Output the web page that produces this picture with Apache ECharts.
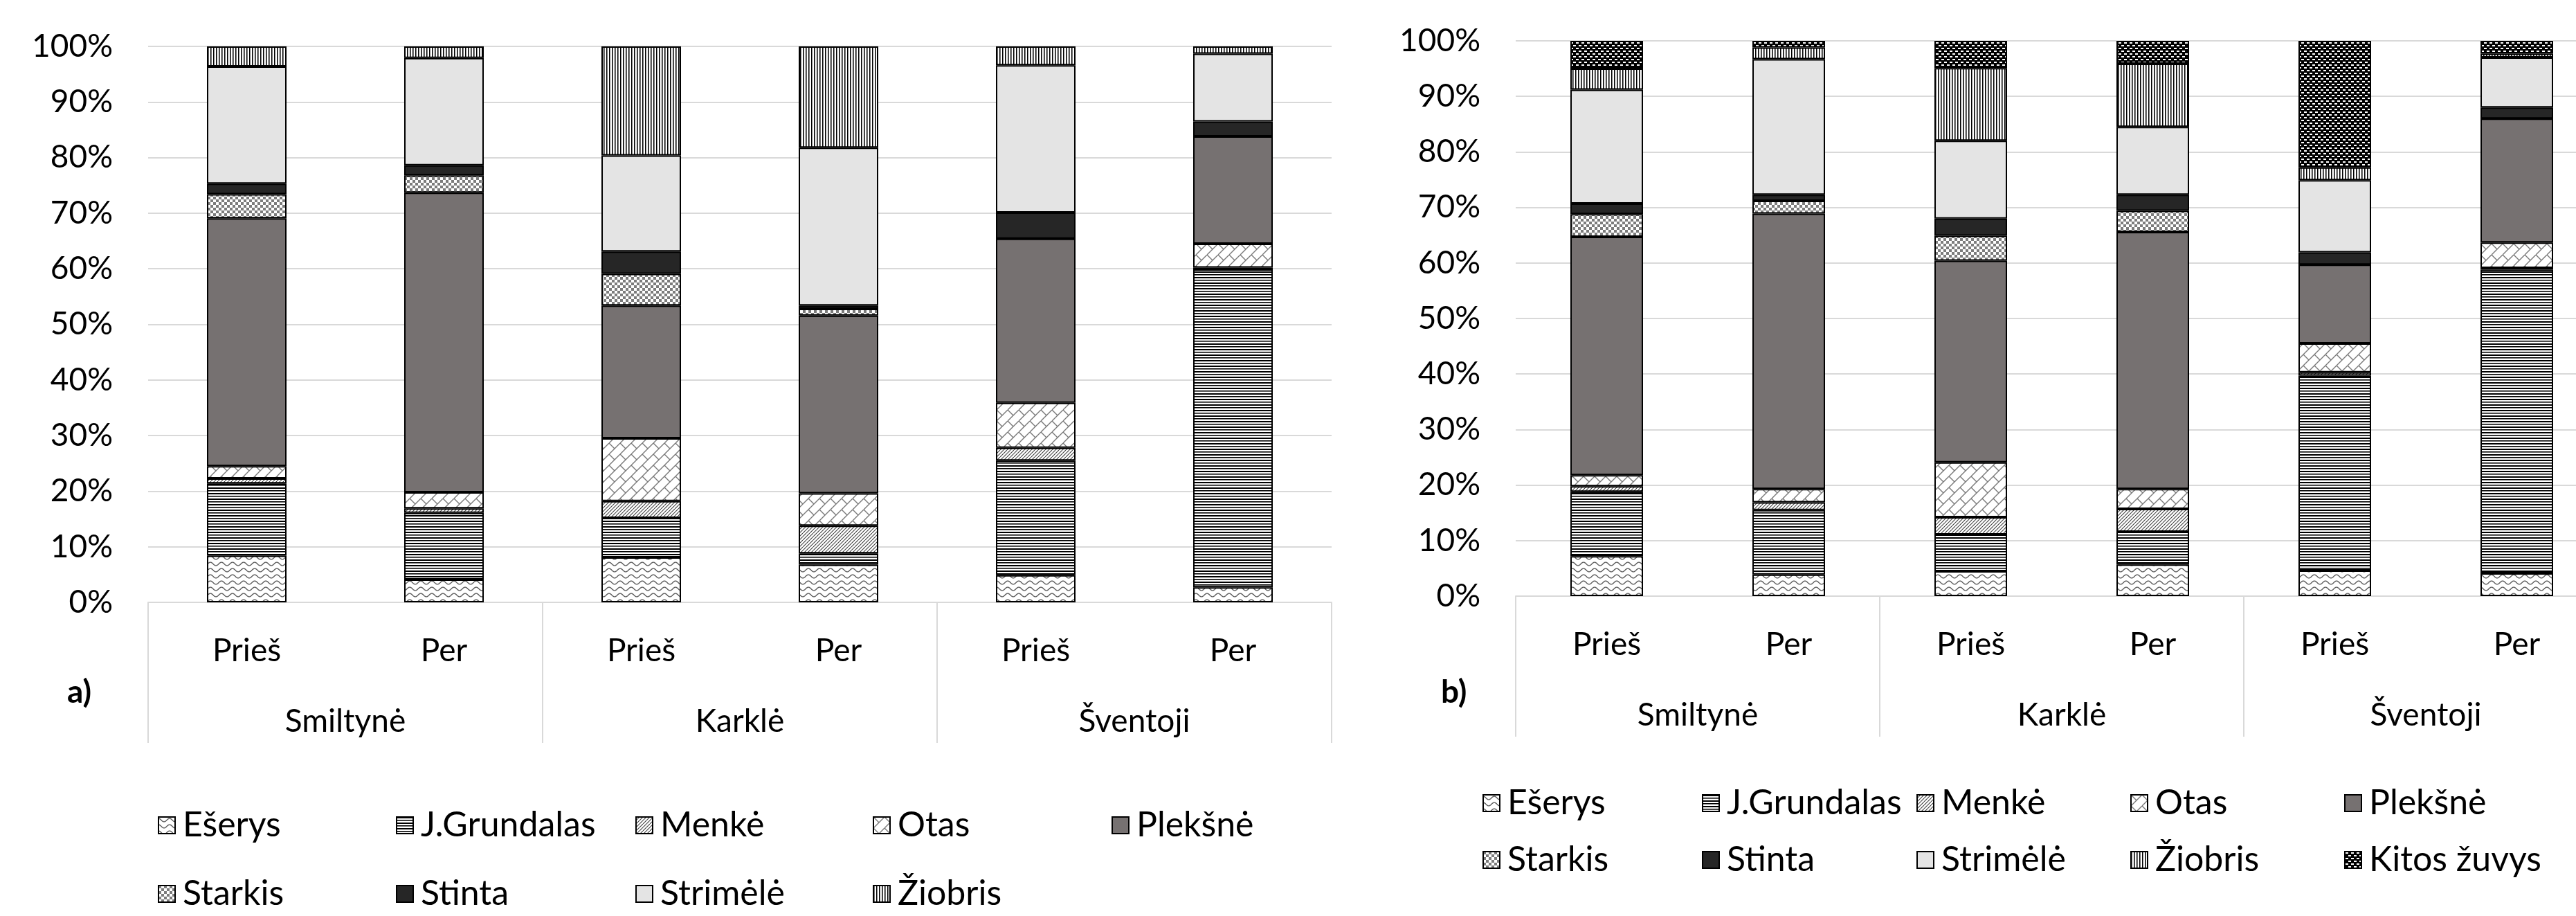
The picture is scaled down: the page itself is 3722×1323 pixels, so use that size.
<!DOCTYPE html>
<html>
<head>
<meta charset="utf-8">
<script src="https://cdn.jsdelivr.net/npm/echarts@6/dist/echarts.min.js"></script>
<style>
  html, body { margin: 0; padding: 0; background: #fff; }
  #chart { width: 3722px; height: 1323px; }
</style>
</head>
<body>
<div id="chart"></div>
<script>
// ---- data ----
const categories = ['Prieš', 'Per', 'Prieš', 'Per', 'Prieš', 'Per'];
const sites = ['Smiltynė', 'Karklė', 'Šventoji'];
const speciesA = ['Ešerys', 'J.Grundalas', 'Menkė', 'Otas', 'Plekšnė', 'Starkis', 'Stinta', 'Strimėlė', 'Žiobris'];
const speciesB = ['Ešerys', 'J.Grundalas', 'Menkė', 'Otas', 'Plekšnė', 'Starkis', 'Stinta', 'Strimėlė', 'Žiobris', 'Kitos žuvys'];

// a) shares, % of catch, bottom to top of each column
const eserysA    = [8.4, 4.1, 8.1, 6.8, 4.9, 2.7];
const grundalasA = [13.0, 12.0, 7.1, 2.0, 20.6, 57.2];
const menkeA     = [0.9, 0.8, 3.0, 5.0, 2.3, 0.3];
const otasA      = [2.2, 2.9, 11.3, 5.8, 8.1, 4.3];
const pleksneA   = [44.6, 53.9, 23.9, 32.0, 29.5, 19.3];
const starkisA   = [4.3, 3.1, 5.7, 1.2, 0, 0];
const stintaA    = [1.9, 1.8, 4.0, 0.6, 4.7, 2.7];
const strimeleA  = [21.1, 19.3, 17.3, 28.4, 26.5, 12.2];
const ziobrisA   = [3.6, 2.1, 19.6, 18.2, 3.4, 1.3];

// b) shares, % of catch
const eserysB    = [7.2, 3.9, 4.5, 5.7, 4.6, 4.1];
const grundalasB = [11.6, 11.6, 6.6, 5.9, 35.1, 54.7];
const menkeB     = [1.0, 1.4, 3.1, 4.1, 0.6, 0.3];
const otasB      = [2.0, 2.4, 9.9, 3.6, 5.2, 4.6];
const pleksneB   = [42.9, 49.6, 36.3, 46.3, 14.2, 22.3];
const starkisB   = [4.1, 2.3, 4.5, 3.8, 0, 0];
const stintaB    = [1.9, 1.1, 3.1, 2.9, 2.2, 2.0];
const strimeleB  = [20.5, 24.4, 14.0, 12.2, 13.0, 9.0];
const ziobrisB   = [3.8, 2.1, 13.1, 11.4, 2.3, 0.7];
const kitosB     = [5.0, 1.2, 4.9, 4.1, 22.8, 2.3];

const valuesA = [eserysA, grundalasA, menkeA, otasA, pleksneA, starkisA, stintaA, strimeleA, ziobrisA];
const valuesB = [eserysB, grundalasB, menkeB, otasB, pleksneB, starkisB, stintaB, strimeleB, ziobrisB, kitosB];

// ---- fill patterns ----
function tile(w, h, bg, draw) {
  const c = document.createElement('canvas');
  c.width = w; c.height = h;
  const g = c.getContext('2d');
  g.fillStyle = bg; g.fillRect(0, 0, w, h);
  draw(g, w, h);
  return { image: c, repeat: 'repeat' };
}

const fills = {
  'Ešerys': tile(16, 9, '#fff', (g, w) => {
    g.strokeStyle = '#5a5a5a'; g.lineWidth = 1.4;
    g.beginPath();
    for (let x = -1; x <= w + 1; x += 0.5) {
      const y = 4.5 - 2.4 * Math.cos(2 * Math.PI * x / w);
      if (x === -1) g.moveTo(x, y); else g.lineTo(x, y);
    }
    g.stroke();
  }),
  'J.Grundalas': tile(1, 8, '#fff', (g) => {
    g.fillStyle = '#000';
    g.fillRect(0, 0, 1, 2);
    g.fillRect(0, 4, 1, 1);
    g.fillStyle = '#666';
    g.fillRect(0, 5, 1, 1);
  }),
  'Menkė': tile(5, 5, '#fff', (g) => {
    g.strokeStyle = '#3c3c3c'; g.lineWidth = 1.1;
    for (let k = -1; k <= 1; k++) {
      g.beginPath(); g.moveTo(k * 5, 5); g.lineTo(k * 5 + 5, 0); g.stroke();
    }
  }),
  'Otas': tile(16, 16, '#fff', (g) => {
    g.strokeStyle = '#7a7a7a'; g.lineWidth = 1.4;
    for (let k = -1; k <= 1; k++) {
      g.beginPath(); g.moveTo(k * 16, 16); g.lineTo(k * 16 + 16, 0); g.stroke();
    }
    g.beginPath(); g.moveTo(0, 0); g.lineTo(8, 8); g.stroke();
    g.beginPath(); g.moveTo(16, 0); g.lineTo(24, 8); g.stroke();
    g.beginPath(); g.moveTo(0, 16); g.lineTo(8, 24); g.stroke();
    g.beginPath(); g.moveTo(-16, 0); g.lineTo(-8, 8); g.stroke();
  }),
  'Plekšnė': '#767171',
  'Starkis': tile(8, 8, '#fff', (g) => {
    g.fillStyle = '#7c7c7c';
    g.fillRect(0, 0, 4, 4);
    g.fillRect(4, 4, 4, 4);
  }),
  'Stinta': '#262626',
  'Strimėlė': '#e4e4e4',
  'Žiobris': tile(4, 1, '#fff', (g) => {
    g.fillStyle = '#000'; g.fillRect(0, 0, 1, 1);
    g.fillStyle = '#707070'; g.fillRect(1, 0, 1, 1);
  }),
  'Kitos žuvys': tile(8, 8, '#000', (g) => {
    g.fillStyle = '#fff';
    g.fillRect(1, 1, 4, 2);
    g.fillRect(5, 5, 3, 2);
    g.fillRect(0, 5, 1, 2);
  })
};

// ---- layout helpers ----
const FONT = 'Lato';
const FS = 46;      // axis text
const LFS = 50;     // legend text
const GRID_LINE = '#d9d9d9';

function barSeries(names, values, axisIdx, stack, width) {
  return names.map((name, i) => ({
    name,
    type: 'bar',
    stack,
    xAxisIndex: axisIdx,
    yAxisIndex: axisIdx / 2,
    barWidth: width,
    data: values[i],
    itemStyle: { color: fills[name], borderColor: '#000', borderWidth: 2 },
    emphasis: { disabled: true },
    animation: false
  }));
}

function lowerAxes(gridIndex, tickLen) {
  const label = { fontFamily: FONT, fontSize: FS, lineHeight: FS, color: '#000', interval: 0 };
  return [
    {
      gridIndex, type: 'category', data: categories, position: 'bottom',
      axisLine: { lineStyle: { color: GRID_LINE, width: 2 } },
      axisTick: { show: false },
      axisLabel: Object.assign({ margin: 47 }, label)
    },
    {
      gridIndex, type: 'category', data: sites, position: 'bottom', offset: 0,
      axisLine: { show: false },
      axisTick: { show: true, length: tickLen, interval: 0, lineStyle: { color: GRID_LINE, width: 2 } },
      axisLabel: Object.assign({ margin: 149 }, label)
    }
  ];
}

function valueAxis(gridIndex) {
  return {
    gridIndex, type: 'value', min: 0, max: 100, interval: 10,
    axisLine: { show: false }, axisTick: { show: false },
    axisLabel: { formatter: '{value}%', fontFamily: FONT, fontSize: FS, color: '#000', margin: 51 },
    splitLine: { lineStyle: { color: GRID_LINE, width: 2 } }
  };
}

function legendItems(names, xs, ys) {
  return names.map((name, i) => ({
    data: [name],
    left: xs[i % 5],
    top: ys[Math.floor(i / 5)] - LFS / 2,
    padding: 0,
    itemWidth: 24,
    itemHeight: 24,
    icon: 'rect',
    selectedMode: false,
    textStyle: { fontFamily: FONT, fontSize: LFS, lineHeight: LFS, color: '#000', padding: [0, 0, 0, 6] }
  }));
}

const option = {
  backgroundColor: '#fff',
  animation: false,
  grid: [
    { left: 214, top: 67, width: 1710, height: 803, outerBoundsMode: 'none' },
    { left: 2190, top: 59, width: 1578, height: 802, outerBoundsMode: 'none' }
  ],
  xAxis: [...lowerAxes(0, 203), ...lowerAxes(1, 203)],
  yAxis: [valueAxis(0), valueAxis(1)],
  legend: [
    ...legendItems(speciesA, [228, 572, 918, 1261, 1606], [1192, 1291]),
    ...legendItems(speciesB, [2142, 2459, 2769, 3078, 3387], [1160, 1242])
  ],
  graphic: [
    { type: 'text', left: 97, top: 1000 - FS / 2, style: { text: 'a)', font: `bold ${FS}px ${FONT}`, fill: '#000' } },
    { type: 'text', left: 2082, top: 1000 - FS / 2, style: { text: 'b)', font: `bold ${FS}px ${FONT}`, fill: '#000' } }
  ],
  series: [
    ...barSeries(speciesA, valuesA, 0, 'a', 115),
    ...barSeries(speciesB, valuesB, 2, 'b', 105)
  ]
};

const chart = echarts.init(document.getElementById('chart'), null, { renderer: 'canvas' });
chart.setOption(option);
</script>
</body>
</html>
